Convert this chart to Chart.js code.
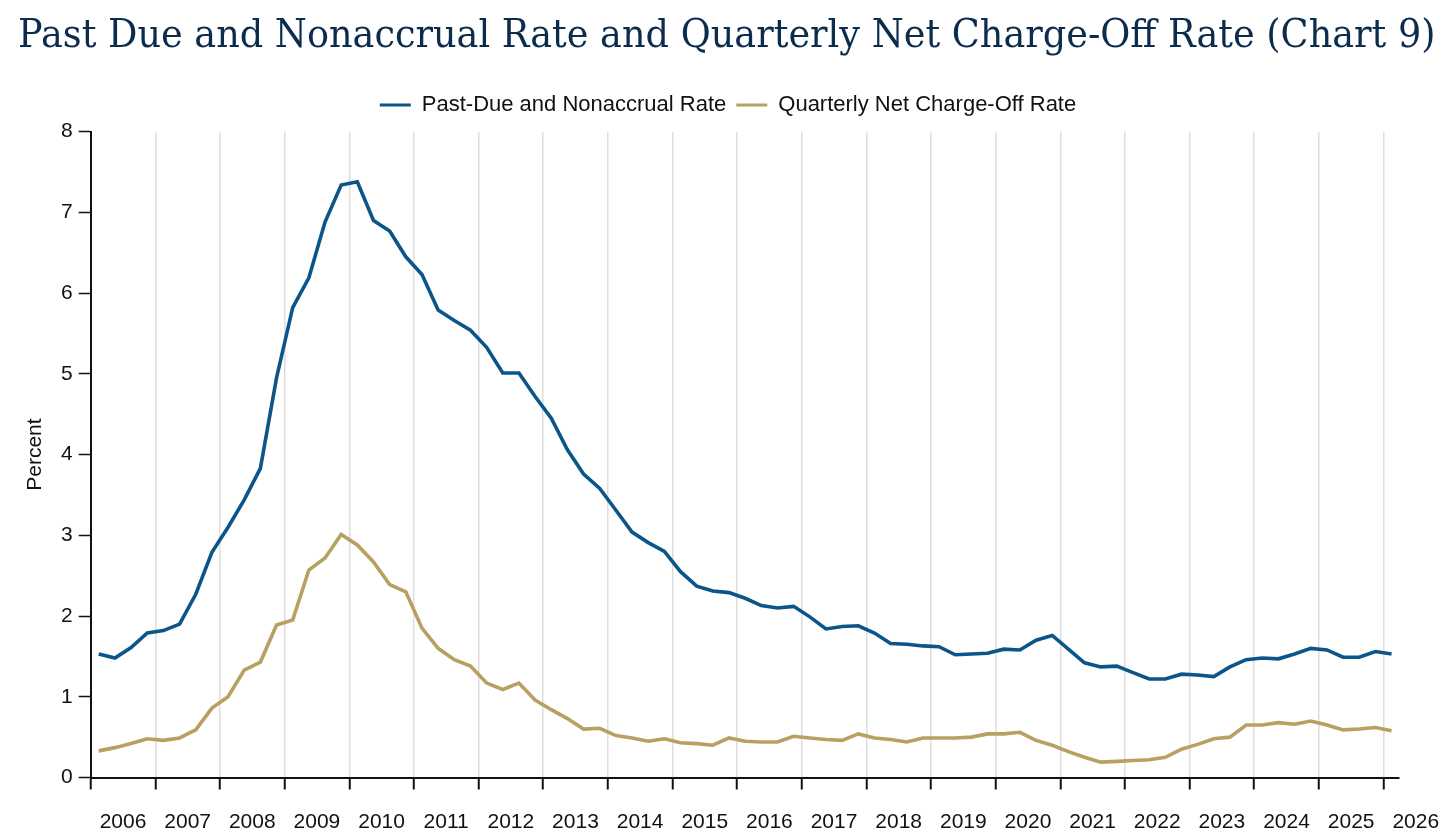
<!DOCTYPE html>
<html>
<head>
<meta charset="utf-8">
<script src="https://cdn.jsdelivr.net/npm/chart.js@4/dist/chart.umd.min.js"></script>
<style>
    html, body { margin: 0; padding: 0; background: #fff; }
    #wrap { position: relative; width: 1456px; height: 836px; overflow: hidden; }
    #title {
        position: absolute; left: 18px; top: 15px; margin: 0;
        font-family: 'DejaVu Serif', 'Liberation Serif', serif;
        font-weight: normal; font-size: 38.5px; line-height: 1;
        color: #0c2c4e; white-space: nowrap;
        transform-origin: left top;
    }
    canvas { position: absolute; left: 0; top: 0; }
</style>
</head>
<body>
<div id="wrap">
    <canvas id="chart9" width="1456" height="836"></canvas>
    <h1 id="title">Past Due and Nonaccrual Rate and Quarterly Net Charge-Off Rate (Chart 9)</h1>
</div>
<script>
// Quarters shown on the chart
const quarters = [
    '2006 Q1', '2006 Q2', '2006 Q3', '2006 Q4',
    '2007 Q1', '2007 Q2', '2007 Q3', '2007 Q4',
    '2008 Q1', '2008 Q2', '2008 Q3', '2008 Q4',
    '2009 Q1', '2009 Q2', '2009 Q3', '2009 Q4',
    '2010 Q1', '2010 Q2', '2010 Q3', '2010 Q4',
    '2011 Q1', '2011 Q2', '2011 Q3', '2011 Q4',
    '2012 Q1', '2012 Q2', '2012 Q3', '2012 Q4',
    '2013 Q1', '2013 Q2', '2013 Q3', '2013 Q4',
    '2014 Q1', '2014 Q2', '2014 Q3', '2014 Q4',
    '2015 Q1', '2015 Q2', '2015 Q3', '2015 Q4',
    '2016 Q1', '2016 Q2', '2016 Q3', '2016 Q4',
    '2017 Q1', '2017 Q2', '2017 Q3', '2017 Q4',
    '2018 Q1', '2018 Q2', '2018 Q3', '2018 Q4',
    '2019 Q1', '2019 Q2', '2019 Q3', '2019 Q4',
    '2020 Q1', '2020 Q2', '2020 Q3', '2020 Q4',
    '2021 Q1', '2021 Q2', '2021 Q3', '2021 Q4',
    '2022 Q1', '2022 Q2', '2022 Q3', '2022 Q4',
    '2023 Q1', '2023 Q2', '2023 Q3', '2023 Q4',
    '2024 Q1', '2024 Q2', '2024 Q3', '2024 Q4',
    '2025 Q1', '2025 Q2', '2025 Q3', '2025 Q4',
    '2026 Q1'
];

// Past-due and nonaccrual rate (percent)
const pastDueRate = [
    1.53, 1.48, 1.61, 1.79,
    1.82, 1.90, 2.27, 2.79,
    3.10, 3.44, 3.83, 4.95,
    5.82, 6.19, 6.88, 7.34,
    7.38, 6.90, 6.77, 6.45,
    6.23, 5.79, 5.66, 5.54,
    5.33, 5.01, 5.01, 4.72,
    4.45, 4.06, 3.76, 3.58,
    3.31, 3.04, 2.91, 2.80,
    2.55, 2.37, 2.31, 2.29,
    2.22, 2.13, 2.10, 2.12,
    1.99, 1.84, 1.87, 1.88,
    1.79, 1.66, 1.65, 1.63,
    1.62, 1.52, 1.53, 1.54,
    1.59, 1.58, 1.70, 1.76,
    1.59, 1.42, 1.37, 1.38,
    1.30, 1.22, 1.22, 1.28,
    1.27, 1.25, 1.37, 1.46,
    1.48, 1.47, 1.53, 1.60,
    1.58, 1.49, 1.49, 1.56,
    1.53
];

// Quarterly net charge-off rate (percent)
const netChargeOffRate = [
    0.33, 0.37, 0.42, 0.48,
    0.46, 0.49, 0.59, 0.86,
    1.00, 1.33, 1.43, 1.89,
    1.95, 2.57, 2.72, 3.01,
    2.88, 2.67, 2.39, 2.30,
    1.85, 1.60, 1.46, 1.38,
    1.17, 1.09, 1.17, 0.96,
    0.84, 0.73, 0.60, 0.61,
    0.52, 0.49, 0.45, 0.48,
    0.43, 0.42, 0.40, 0.49,
    0.45, 0.44, 0.44, 0.51,
    0.49, 0.47, 0.46, 0.54,
    0.49, 0.47, 0.44, 0.49,
    0.49, 0.49, 0.50, 0.54,
    0.54, 0.56, 0.46, 0.40,
    0.32, 0.25, 0.19, 0.20,
    0.21, 0.22, 0.25, 0.35,
    0.41, 0.48, 0.50, 0.65,
    0.65, 0.68, 0.66, 0.70,
    0.65, 0.59, 0.60, 0.62,
    0.58
];

// Axis ticks
const yearTicks = [2006, 2007, 2008, 2009, 2010, 2011, 2012, 2013, 2014, 2015, 2016,
    2017, 2018, 2019, 2020, 2021, 2022, 2023, 2024, 2025, 2026];
const percentTicks = [0, 1, 2, 3, 4, 5, 6, 7, 8];

const BLUE = '#0b5589';
const GOLD = '#b7a062';
const SANS = "'Liberation Sans', Arial, Helvetica, sans-serif";

// squeeze the serif title to the width it has in the original
const titleEl = document.getElementById('title');
titleEl.style.transform = 'scaleX(' + (1418 / titleEl.scrollWidth) + ')';

/**
 * Turn a quarter label into a decimal year (middle of the quarter)
 */
function quarterToYear(label) {
    const [year, q] = label.split(' Q');
    return Number(year) + (Number(q) - 1) / 4 + 0.125;
}

function toPoints(values) {
    return values.map((v, i) => ({ x: quarterToYear(quarters[i]), y: v }));
}

const ctx = document.getElementById('chart9').getContext('2d');

const chart = new Chart(ctx, {
    type: 'line',
    data: {
        datasets: [
            {
                label: 'Past-Due and Nonaccrual Rate',
                data: toPoints(pastDueRate),
                borderColor: BLUE,
                backgroundColor: BLUE,
                borderWidth: 3.6,
                pointRadius: 0,
                tension: 0
            },
            {
                label: 'Quarterly Net Charge-Off Rate',
                data: toPoints(netChargeOffRate),
                borderColor: GOLD,
                backgroundColor: GOLD,
                borderWidth: 3.6,
                pointRadius: 0,
                tension: 0
            }
        ]
    },
    options: {
        responsive: false,
        animation: false,
        layout: {
            padding: { top: 84, right: 0, bottom: 0, left: 0 }
        },
        plugins: {
            legend: {
                display: true,
                position: 'top',
                align: 'center',
                labels: {
                    boxWidth: 31,
                    boxHeight: 3,
                    padding: 10,
                    color: '#111',
                    font: { family: SANS, size: 22 },
                    generateLabels: function(c) {
                        return Chart.defaults.plugins.legend.labels.generateLabels(c)
                            .map(item => Object.assign(item, { lineWidth: 0 }));
                    }
                }
            },
            // empty title used only as a gap between the legend and the plot
            title: {
                display: true,
                text: '',
                weight: 500,
                font: { size: 1 },
                padding: { top: 4.5, bottom: 0 }
            },
            tooltip: { enabled: false }
        },
        scales: {
            x: {
                type: 'linear',
                min: 2006,
                max: 2026.24,
                afterBuildTicks: function(scale) {
                    scale.ticks = yearTicks.map(v => ({ value: v }));
                },
                afterFit: function(scale) {
                    scale.height = 58.5;
                },
                grid: {
                    color: '#dedede',
                    lineWidth: 1.5,
                    drawOnChartArea: true,
                    drawTicks: true,
                    tickLength: 12,
                    tickColor: '#111',
                    tickWidth: 2
                },
                border: {
                    display: true,
                    color: '#111',
                    width: 2
                },
                ticks: {
                    color: '#111',
                    font: { family: SANS, size: 21 },
                    padding: 20,
                    maxRotation: 0,
                    autoSkip: false,
                    labelOffset: 32.3,
                    callback: function(value) {
                        return String(value);
                    }
                }
            },
            y: {
                type: 'linear',
                min: 0,
                max: 8,
                afterBuildTicks: function(scale) {
                    scale.ticks = percentTicks.map(v => ({ value: v }));
                },
                afterFit: function(scale) {
                    scale.width = 90.7;
                },
                grid: {
                    drawOnChartArea: false,
                    drawTicks: true,
                    tickLength: 12,
                    tickColor: '#111',
                    tickWidth: 1.5
                },
                border: {
                    display: true,
                    color: '#111',
                    width: 2
                },
                ticks: {
                    color: '#111',
                    font: { family: SANS, size: 21 },
                    padding: 6
                },
                title: {
                    display: true,
                    text: 'Percent',
                    color: '#111',
                    font: { family: SANS, size: 21 },
                    padding: { top: 23, bottom: 0 }
                }
            },
            // empty right-hand axis: keeps the white margin right of the plot
            rightGap: {
                type: 'linear',
                position: 'right',
                display: true,
                afterFit: function(scale) {
                    scale.width = 57;
                },
                grid: { display: false },
                border: { display: false },
                ticks: { display: false }
            }
        }
    }
});
</script>
</body>
</html>
